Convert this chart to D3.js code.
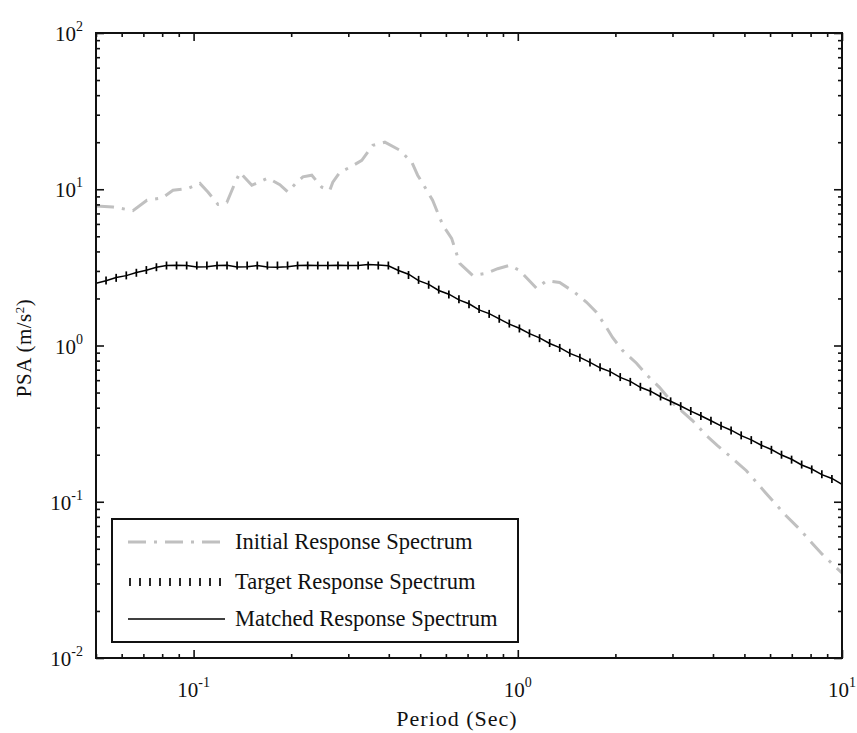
<!DOCTYPE html>
<html>
<head>
<meta charset="utf-8">
<script src="https://cdn.jsdelivr.net/npm/d3@7"></script>
<style>
body { margin:0; background:#fff; }
svg { display:block; }
text { font-family: "Liberation Serif", "DejaVu Serif", serif; fill:#111; }
</style>
</head>
<body>
<div id="chart"></div>
<script>
// initial (unmatched) spectrum
var initialPeriod = [0.050, 0.0564, 0.065, 0.0718, 0.080, 0.0864, 0.096, 0.1046, 0.1107, 0.1189, 0.1267, 0.134, 0.139, 0.1512, 0.1694, 0.1845, 0.1953, 0.2082, 0.2173, 0.2315, 0.2486, 0.263, 0.2688, 0.2825, 0.3032, 0.3302, 0.357, 0.389, 0.432, 0.471, 0.491, 0.524, 0.546, 0.587, 0.625, 0.662, 0.726, 0.80, 0.867, 0.944, 1.013, 1.143, 1.227, 1.346, 1.497, 1.63, 1.75, 1.878, 1.96, 2.104, 2.324, 2.513, 2.735, 3.0, 3.458, 3.818, 4.13, 4.495, 5.072, 5.846, 6.736, 7.387, 8.1, 8.7, 10]
var initialPSA = [7.8, 7.7, 7.3, 8.5, 8.8, 9.85, 10.1, 10.9, 9.6, 8.0, 8.25, 10.9, 12.8, 10.6, 11.8, 10.7, 9.6, 11.1, 12.0, 12.3, 10.3, 9.85, 11.1, 12.85, 13.8, 15.3, 19.1, 20.0, 17.8, 14.9, 12.3, 9.85, 8.5, 5.9, 4.85, 3.35, 2.81, 2.9, 3.1, 3.26, 3.02, 2.32, 2.6, 2.53, 2.19, 1.89, 1.63, 1.30, 1.125, 0.93, 0.77, 0.64, 0.54, 0.43, 0.331, 0.265, 0.229, 0.197, 0.158, 0.1125, 0.081, 0.067, 0.054, 0.046, 0.035]

// target spectrum points (one tick mark each) and the matched result
var targetPeriod = [0.0500, 0.0537, 0.0577, 0.0620, 0.0666, 0.0715, 0.0768, 0.0825, 0.0886, 0.0952, 0.1023, 0.1099, 0.1181, 0.1268, 0.1362, 0.1463, 0.1572, 0.1689, 0.1814, 0.1949, 0.2093, 0.2249, 0.2416, 0.2595, 0.2788, 0.2995, 0.3217, 0.3455, 0.3712, 0.3988, 0.4284, 0.4602, 0.4943, 0.5310, 0.5704, 0.6128, 0.6583, 0.7071, 0.7596, 0.8160, 0.8766, 0.9416, 1.0115, 1.0866, 1.1672, 1.2539, 1.3469, 1.4469, 1.5543, 1.6697, 1.7936, 1.9268, 2.0698, 2.2233, 2.3885, 2.5658, 2.7562, 2.9607, 3.1805, 3.4165, 3.6702, 3.9425, 4.2352, 4.5494, 4.8872, 5.2498, 5.6396, 6.0580, 6.5077, 6.9905, 7.5094, 8.0666, 8.6655, 9.3085, 10.0]
var targetPSA = [2.52, 2.61, 2.71, 2.81, 2.92, 3.04, 3.17, 3.25, 3.25, 3.25, 3.25, 3.25, 3.25, 3.25, 3.25, 3.25, 3.25, 3.25, 3.25, 3.25, 3.25, 3.25, 3.25, 3.25, 3.25, 3.25, 3.25, 3.25, 3.25, 3.25, 3.035, 2.825, 2.630, 2.448, 2.279, 2.121, 1.975, 1.838, 1.711, 1.593, 1.483, 1.381, 1.285, 1.196, 1.114, 1.037, 0.965, 0.898, 0.836, 0.779, 0.725, 0.675, 0.628, 0.585, 0.544, 0.507, 0.472, 0.439, 0.409, 0.381, 0.354, 0.330, 0.307, 0.286, 0.266, 0.248, 0.231, 0.215, 0.200, 0.186, 0.173, 0.161, 0.150, 0.140, 0.130]
var matchedPSA = [2.50, 2.60, 2.72, 2.80, 2.93, 3.03, 3.17, 3.25, 3.26, 3.25, 3.18, 3.19, 3.25, 3.26, 3.18, 3.19, 3.25, 3.18, 3.17, 3.19, 3.25, 3.26, 3.25, 3.25, 3.26, 3.25, 3.25, 3.30, 3.27, 3.24, 3.02, 2.86, 2.60, 2.46, 2.25, 2.13, 1.96, 1.85, 1.69, 1.60, 1.48, 1.37, 1.29, 1.19, 1.12, 1.03, 0.97, 0.89, 0.84, 0.78, 0.72, 0.68, 0.625, 0.59, 0.54, 0.51, 0.47, 0.44, 0.41, 0.38, 0.355, 0.33, 0.306, 0.287, 0.265, 0.249, 0.23, 0.216, 0.199, 0.187, 0.172, 0.162, 0.149, 0.141, 0.129]

var xTicks = [0.1, 1, 10]
var xExp = ["-1", "0", "1"]
var yTicks = [0.01, 0.1, 1, 10, 100]
var yExp = ["-2", "-1", "0", "1", "2"]
var legendLabels = ["Initial Response Spectrum", "Target Response Spectrum", "Matched Response Spectrum"]

var width = 857
var height = 733
var margin = {top:33, bottom:75, left:96, right:15}

var svg = d3.select("#chart").append("svg")
    .attr("width", width)
    .attr("height", height)

var x = d3.scaleLog()
    .domain([0.05, 10])
    .range([margin.left, width - margin.right])

var y = d3.scaleLog()
    .domain([0.01, 100])
    .range([height - margin.bottom, margin.top])

svg.append("clipPath").attr("id", "clip")
    .append("rect")
    .attr("x", margin.left).attr("y", margin.top)
    .attr("width", width - margin.left - margin.right)
    .attr("height", height - margin.top - margin.bottom)

var plot = svg.append("g").attr("clip-path", "url(#clip)")

// initial spectrum - grey dash dot
var initialData = initialPeriod.map((p, i) => ({p: p, v: initialPSA[i]}))
plot.append("path")
    .datum(initialData)
    .attr("fill", "none")
    .attr("stroke", "#c0c0c0")
    .attr("stroke-width", 3)
    .attr("stroke-dasharray", "18,8,3,8")
    .attr("d", d3.line().x(d => x(d.p)).y(d => y(d.v)))

// matched spectrum - solid black
var matchedData = targetPeriod.map((p, i) => ({p: p, v: matchedPSA[i]}))
plot.append("path")
    .datum(matchedData)
    .attr("fill", "none")
    .attr("stroke", "#000")
    .attr("stroke-width", 1.5)
    .attr("d", d3.line().x(d => x(d.p)).y(d => y(d.v)))

// target spectrum - vertical tick markers
plot.append("g")
    .selectAll("line")
    .data(targetPeriod)
    .join("line")
    .attr("x1", d => x(d)).attr("x2", d => x(d))
    .attr("y1", (d, i) => y(targetPSA[i]) - 4)
    .attr("y2", (d, i) => y(targetPSA[i]) + 4)
    .attr("stroke", "#000")
    .attr("stroke-width", 1.7)

// ticks on all four sides, pointing inward
var xMinor = x.ticks().filter(t => xTicks.indexOf(t) < 0)
var yMinor = y.ticks().filter(t => yTicks.indexOf(t) < 0)

function tickAxis(axis, major, minor, tx, ty) {
    var g = svg.append("g").attr("transform", `translate(${tx},${ty})`)
    g.append("g").call(axis.tickValues(major).tickSize(-8).tickSizeOuter(0).tickFormat(""))
    g.append("g").call(axis.tickValues(minor).tickSize(-4).tickSizeOuter(0).tickFormat(""))
    g.selectAll("path.domain").remove()
    g.selectAll("line").attr("stroke", "#111").attr("stroke-width", 1.6)
}
tickAxis(d3.axisBottom(x), xTicks, xMinor, 0, height - margin.bottom)
tickAxis(d3.axisTop(x), xTicks, xMinor, 0, margin.top)
tickAxis(d3.axisLeft(y), yTicks, yMinor, margin.left, 0)
tickAxis(d3.axisRight(y), yTicks, yMinor, width - margin.right, 0)

// frame
svg.append("rect")
    .attr("x", margin.left).attr("y", margin.top)
    .attr("width", width - margin.left - margin.right)
    .attr("height", height - margin.top - margin.bottom)
    .attr("fill", "none")
    .attr("stroke", "#111")
    .attr("stroke-width", 2)

// tick labels with superscripts
var xl = svg.append("g").selectAll("text")
    .data(xTicks)
    .join("text")
    .attr("x", d => x(d))
    .attr("y", height - margin.bottom + 39)
    .attr("text-anchor", "middle")
    .attr("font-size", "21px")
xl.append("tspan").text("10")
xl.append("tspan").attr("dy", -10).attr("font-size", "14px").text((d, i) => xExp[i])

var yl = svg.append("g").selectAll("text")
    .data(yTicks)
    .join("text")
    .attr("x", margin.left - 13)
    .attr("y", d => y(d) + 8)
    .attr("text-anchor", "end")
    .attr("font-size", "21px")
yl.append("tspan").text("10")
yl.append("tspan").attr("dy", -10).attr("font-size", "14px").text((d, i) => yExp[i])

// axis titles
svg.append("text")
    .attr("x", 457)
    .attr("y", 726)
    .attr("text-anchor", "middle")
    .attr("font-size", "22px")
    .attr("letter-spacing", "1px")
    .text("Period (Sec)")

var yt = svg.append("text")
    .attr("transform", "translate(31,348) rotate(-90)")
    .attr("text-anchor", "middle")
    .attr("font-size", "21px")
    .attr("letter-spacing", "0.5px")
yt.append("tspan").text("PSA (m/s")
yt.append("tspan").attr("dy", -7).attr("font-size", "13px").text("2")
yt.append("tspan").attr("dy", 7).text(")")

// legend
var legend = svg.append("g")
legend.append("rect")
    .attr("x", 112).attr("y", 519)
    .attr("width", 406).attr("height", 123)
    .attr("fill", "#fff")
    .attr("stroke", "#111")
    .attr("stroke-width", 2)

var rowY = [542, 582, 619]
legend.append("line")
    .attr("x1", 128).attr("x2", 225)
    .attr("y1", rowY[0]).attr("y2", rowY[0])
    .attr("stroke", "#c0c0c0").attr("stroke-width", 3)
    .attr("stroke-dasharray", "18,8,3,8")
legend.append("g").selectAll("line")
    .data(d3.range(10))
    .join("line")
    .attr("x1", d => 130 + d * 10).attr("x2", d => 130 + d * 10)
    .attr("y1", rowY[1] - 4).attr("y2", rowY[1] + 4)
    .attr("stroke", "#000").attr("stroke-width", 1.7)
legend.append("line")
    .attr("x1", 128).attr("x2", 225)
    .attr("y1", rowY[2]).attr("y2", rowY[2])
    .attr("stroke", "#000").attr("stroke-width", 1.5)

legend.append("g").selectAll("text")
    .data(legendLabels)
    .join("text")
    .attr("x", 235)
    .attr("y", (d, i) => rowY[i] + 7)
    .attr("font-size", "22.5px")
    .text(d => d)
</script>
</body>
</html>
